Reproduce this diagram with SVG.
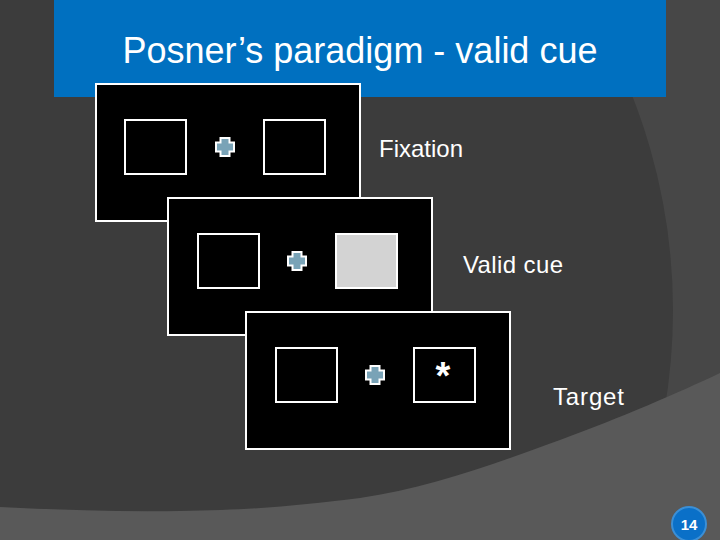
<svg xmlns="http://www.w3.org/2000/svg" width="720" height="540" viewBox="0 0 720 540">
<style>
.panel{fill:#000;stroke:#fff;stroke-width:2}
.box{fill:#000;stroke:#fff;stroke-width:2}
.cue{fill:#d3d3d3;stroke:#fff;stroke-width:2}
.lbl{font-family:"Liberation Sans",Arial,sans-serif;font-size:24px;fill:#fff}
</style>
<defs>
<path id="cross" d="M-4.5,-9 H4.5 V-4.5 H9 V4.5 H4.5 V9 H-4.5 V4.5 H-9 V-4.5 H-4.5 Z" fill="#79a3b7" stroke="#fff" stroke-width="2"/>
</defs>
<rect width="720" height="540" fill="#3c3c3c"/>
<path d="M584,0 A587,587 0 0 1 673,310 A587,587 0 0 1 634,520 L720,540 L720,0 Z" fill="#474747"/>
<path d="M0,507 C60,510 120,512 180,511 C260,510 300,505 360,498 C430,488 500,462 560,440 C620,418 680,392 720,373 L720,540 L0,540 Z" fill="#595959"/>
<g id="header">
<rect x="54" y="0" width="612" height="97" fill="#0070c0"/>
<text x="360" y="63" text-anchor="middle" font-family="Liberation Sans,Arial,sans-serif" font-size="36" fill="#fff">Posner’s paradigm - valid cue</text>
</g>
<g id="fixation">
<rect class="panel" x="96" y="84" width="264" height="137"/>
<rect class="box" x="125" y="120" width="61" height="54"/>
<rect class="box" x="264" y="120" width="61" height="54"/>
<use href="#cross" x="225" y="147"/>
</g>
<g id="validcue">
<rect class="panel" x="168" y="198" width="264" height="137"/>
<rect class="box" x="198" y="234" width="61" height="54"/>
<rect class="cue" x="336" y="234" width="61" height="54"/>
<use href="#cross" x="297" y="261"/>
</g>
<g id="target">
<rect class="panel" x="246" y="312" width="264" height="137"/>
<rect class="box" x="276" y="348" width="61" height="54"/>
<rect class="box" x="414" y="348" width="61" height="54"/>
<use href="#cross" x="375" y="375"/>
<text x="443" y="389" text-anchor="middle" font-family="Liberation Sans,Arial,sans-serif" font-size="38" font-weight="bold" fill="#fff">*</text>
</g>
<g id="labels">
<text class="lbl" x="379" y="157">Fixation</text>
<text class="lbl" x="463" y="273" textLength="100">Valid cue</text>
<text class="lbl" x="553" y="405" textLength="71">Target</text>
</g>
<g id="connectors"></g>
<g id="pagenum">
<circle cx="689" cy="524" r="17" fill="#0a70c8" stroke="#3b8fd6" stroke-width="2"/>
<text x="689" y="529.5" text-anchor="middle" font-family="Liberation Sans,Arial,sans-serif" font-size="15" font-weight="bold" fill="#fff">14</text>
</g>
</svg>
